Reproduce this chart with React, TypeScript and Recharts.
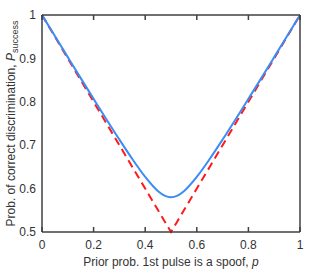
import React from 'react';
import { LineChart, Line, XAxis, YAxis, Label } from 'recharts';

// prior probability that the 1st pulse is a spoof
const priors = [0, 0.05, 0.1, 0.15, 0.2, 0.25, 0.3, 0.35, 0.4, 0.45, 0.475, 0.5, 0.525, 0.55, 0.6, 0.65, 0.7, 0.75, 0.8, 0.85, 0.9, 0.95, 1];
// optimal (blue, solid)
const optimal = [1, 0.9514, 0.9029, 0.8546, 0.8068, 0.7594, 0.713, 0.6683, 0.6271, 0.594, 0.5837, 0.58, 0.5837, 0.594, 0.6271, 0.6683, 0.713, 0.7594, 0.8068, 0.8546, 0.9029, 0.9514, 1];
// guessing baseline (red, dashed)
const baseline = [1, 0.95, 0.9, 0.85, 0.8, 0.75, 0.7, 0.65, 0.6, 0.55, 0.525, 0.5, 0.525, 0.55, 0.6, 0.65, 0.7, 0.75, 0.8, 0.85, 0.9, 0.95, 1];

const xTicks = [0, 0.2, 0.4, 0.6, 0.8, 1];
const yTicks = [0.5, 0.6, 0.7, 0.8, 0.9, 1];

const data = priors.map((p, i) => ({ p, optimal: optimal[i], baseline: baseline[i] }));

const FONT = '"Liberation Sans", Arial, sans-serif';
const AXIS = '#404040';
const TEXT = '#333333';

const YLabel = (props: any) => {
  const vb = props.viewBox || {};
  const cx = 15;
  const cy = vb.y + vb.height / 2;
  return (
    <text
      x={cx}
      y={cy}
      transform={`rotate(-90, ${cx}, ${cy})`}
      textAnchor="middle"
      fontFamily={FONT}
      fontSize={12}
      fill={TEXT}
    >
      Prob. of correct discrimination,{'  '}
      <tspan fontStyle="italic">P</tspan>
      <tspan fontSize={9} dy={3}>success</tspan>
    </text>
  );
};

const XLabel = (props: any) => {
  const vb = props.viewBox || {};
  const cx = vb.x + vb.width / 2;
  return (
    <text x={cx} y={266} textAnchor="middle" fontFamily={FONT} fontSize={12} fill={TEXT}>
      Prior prob. 1st pulse is a spoof,{'  '}
      <tspan fontStyle="italic">p</tspan>
    </text>
  );
};

const blank = () => '';

export default function App() {
  const tickStyle = { fontFamily: FONT, fontSize: 12, fill: TEXT };
  const tickLine = { stroke: AXIS, strokeWidth: 1.5 };
  return (
    <div style={{ position: 'absolute', left: 0, top: 0, background: '#fff' }}>
      <LineChart width={314} height={275} data={data} margin={{ top: 15, right: 14, left: 0, bottom: 0 }}>
        {/* inward tick marks (mirrored, no labels) */}
        <XAxis xAxisId="bm" orientation="bottom" mirror dataKey="p" type="number" domain={[0, 1]}
          ticks={xTicks} height={20} tickSize={5} axisLine={false} tickLine={tickLine}
          tickFormatter={blank} />
        <XAxis xAxisId="t" orientation="top" mirror dataKey="p" type="number" domain={[0, 1]}
          ticks={xTicks} height={20} tickSize={5} stroke={AXIS} strokeWidth={1.5} tickLine={tickLine}
          tickFormatter={blank} />
        <YAxis yAxisId="lm" orientation="left" mirror type="number" domain={[0.5, 1]}
          ticks={yTicks} width={20} tickSize={5} axisLine={false} tickLine={tickLine}
          tickFormatter={blank} />
        <YAxis yAxisId="r" orientation="right" mirror type="number" domain={[0.5, 1]}
          ticks={yTicks} width={20} tickSize={5} stroke={AXIS} strokeWidth={1.5} tickLine={tickLine}
          tickFormatter={blank} />

        {/* labelled axes */}
        <XAxis
          xAxisId="b"
          dataKey="p"
          type="number"
          domain={[0, 1]}
          ticks={xTicks}
          height={43}
          tickSize={0}
          tickMargin={8}
          tickLine={false}
          stroke={AXIS}
          strokeWidth={1.5}
          tick={tickStyle}
        >
          <Label content={<XLabel />} />
        </XAxis>
        <YAxis
          yAxisId="l"
          type="number"
          domain={[0.5, 1]}
          ticks={yTicks}
          width={42}
          tickSize={0}
          tickMargin={6}
          tickLine={false}
          stroke={AXIS}
          strokeWidth={1.5}
          tick={tickStyle}
          tickFormatter={(v: number) => String(v)}
        >
          <Label content={<YLabel />} />
        </YAxis>

        <Line
          xAxisId="b"
          yAxisId="l"
          type="linear"
          dataKey="baseline"
          stroke="#ff1a1a"
          strokeWidth={2}
          strokeDasharray="8 5"
          dot={false}
          isAnimationActive={false}
        />
        <Line
          xAxisId="b"
          yAxisId="l"
          type="monotone"
          dataKey="optimal"
          stroke="#3b8cf5"
          strokeWidth={2}
          dot={false}
          isAnimationActive={false}
        />
      </LineChart>
    </div>
  );
}
